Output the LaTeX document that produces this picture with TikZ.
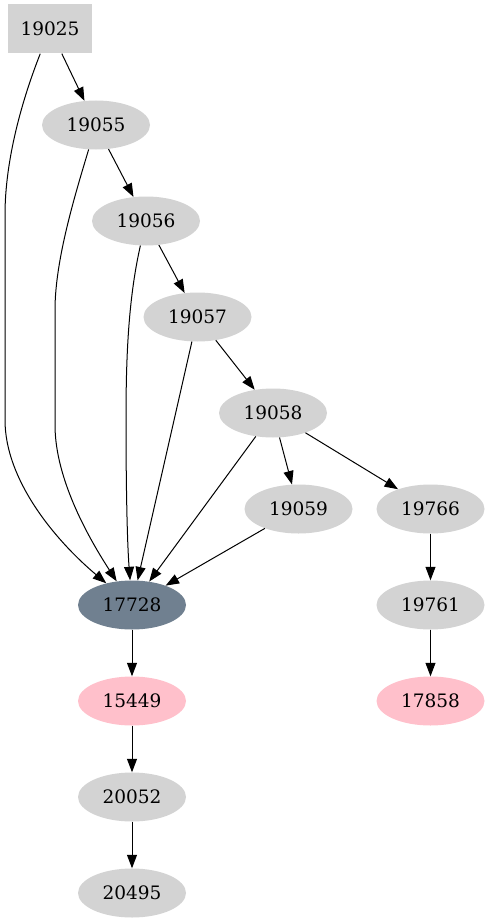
\documentclass[tikz,border=0pt]{standalone}
\usepackage{fontspec}
\setmainfont{DejaVu Serif}
\usetikzlibrary{shapes.geometric, arrows.meta}
\definecolor{nodegray}{RGB}{211,211,211}
\definecolor{slate}{RGB}{112,128,144}
\definecolor{pinkish}{RGB}{255,192,203}

\begin{document}
\begin{tikzpicture}[
  x=1pt, y=-1pt,
  vtx/.style={ellipse, fill=nodegray, minimum width=108pt, minimum height=49pt, inner sep=0pt, font=\fontsize{18.5}{22}\selectfont},
  srcbox/.style={rectangle, fill=nodegray, minimum width=84pt, minimum height=49pt, inner sep=0pt, font=\fontsize{18.5}{22}\selectfont},
  link/.style={-{Triangle[length=13.5pt, width=10pt]}, line width=1pt},
]
  \useasboundingbox (0,0) rectangle (490,923);

  % Top node
  \node[srcbox] (n19025) at (50,29) {19025};

  % Left chain
  \node[vtx] (n19055) at (96,125) {19055};
  \node[vtx] (n19056) at (146,221) {19056};
  \node[vtx] (n19057) at (197.5,317) {19057};
  \node[vtx] (n19058) at (273,413) {19058};
  \node[vtx] (n19059) at (298.5,509) {19059};
  \node[vtx] (n19766) at (430.5,509) {19766};

  % Target and below
  \node[vtx, fill=slate] (n17728) at (132,605) {17728};
  \node[vtx, fill=pinkish] (n15449) at (132,701) {15449};
  \node[vtx] (n20052) at (132,797) {20052};
  \node[vtx] (n20495) at (132,893) {20495};

  % Right branch
  \node[vtx] (n19761) at (430.5,605) {19761};
  \node[vtx, fill=pinkish] (n17858) at (430.5,701) {17858};

  % Chain edges
  \draw[link] (n19025) -- (n19055);
  \draw[link] (n19055) -- (n19056);
  \draw[link] (n19056) -- (n19057);
  \draw[link] (n19057) -- (n19058);
  \draw[link] (n19058) -- (n19059);
  \draw[link] (n19058) -- (n19766);
  \draw[link] (n19766) -- (n19761);
  \draw[link] (n19761) -- (n17858);
  \draw[link] (n17728) -- (n15449);
  \draw[link] (n15449) -- (n20052);
  \draw[link] (n20052) -- (n20495);

  % Edges into 17728
  \draw[link] (n19025) .. controls (22,100) and (5,160) .. (5,215) -- (5,420)
    .. controls (5,480) and (55,540) .. (n17728);
  \draw[link] (n19055) .. controls (75,195) and (55,260) .. (55,310) -- (55,425)
    .. controls (55,480) and (90,540) .. (n17728);
  \draw[link] (n19056) .. controls (128,300) and (126,360) .. (126,420)
    .. controls (126,480) and (127,540) .. (n17728);
  \draw[link] (n19057) -- (n17728);
  \draw[link] (n19058) -- (n17728);
  \draw[link] (n19059) -- (n17728);
\end{tikzpicture}
\end{document}
